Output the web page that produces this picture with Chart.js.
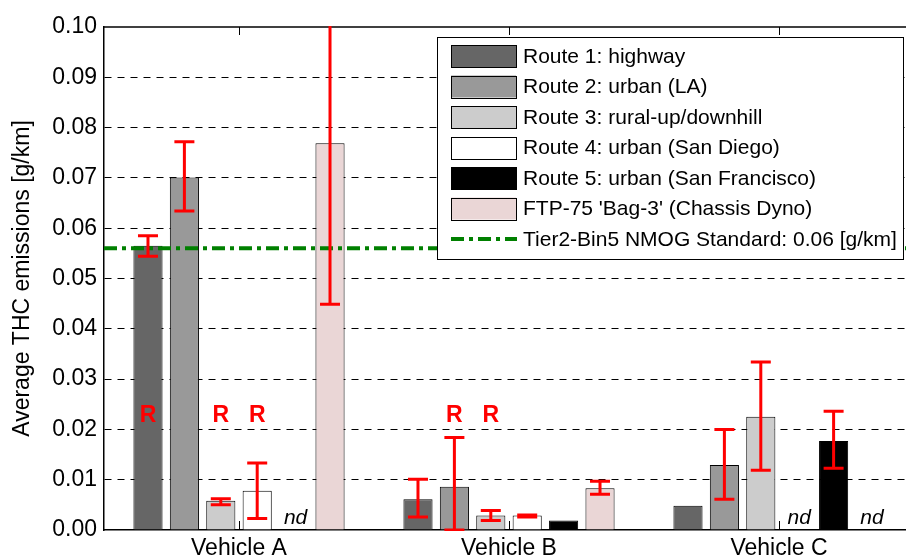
<!DOCTYPE html>
<html>
<head>
<meta charset="utf-8">
<title>Average THC emissions</title>
<script src="https://cdn.jsdelivr.net/npm/chart.js@4.4.1/dist/chart.umd.min.js"></script>
<style>
    body { margin: 0; background: #fff; overflow: hidden; }
    #wrap { width: 906px; height: 558px; overflow: hidden; }
</style>
</head>
<body>
<div id="wrap"><canvas id="thcChart" width="914" height="558"></canvas></div>
<script>
// Chart data
const vehicles = ['Vehicle A', 'Vehicle B', 'Vehicle C'];

const route1 = [0.0565, 0.0061, 0.0048];
const route2 = [0.0701, 0.0086, 0.0129];
const route3 = [0.0058, 0.0029, 0.0225];
const route4 = [0.0078, 0.0029, null];
const route5 = [null, 0.0019, 0.0177];
const ftp75 = [0.0769, 0.0083, null];

// error bars as [low, high]
const route1Err = [[0.0544, 0.0585], [0.0026, 0.0101], null];
const route2Err = [[0.0634, 0.0772], [0.0, 0.0184], [0.0061, 0.0200]];
const route3Err = [[0.0050, 0.0062], [0.0019, 0.0039], [0.0119, 0.0334]];
const route4Err = [[0.0023, 0.0133], [0.0026, 0.0030], null];
const route5Err = [null, null, [0.0123, 0.0236]];
const ftp75Err = [[0.0449, 0.109], [0.0071, 0.0097], null];

// R = marked routes, nd = not driven
const route1Notes = ['R', '', ''];
const route2Notes = ['', 'R', ''];
const route3Notes = ['R', 'R', ''];
const route4Notes = ['R', '', 'nd'];
const route5Notes = ['nd', '', ''];
const ftp75Notes = ['', '', 'nd'];

const standardValue = 0.056;
const standardLabel = 'Tier2-Bin5 NMOG Standard: 0.06 [g/km]';
const yTicks = [0, 0.01, 0.02, 0.03, 0.04, 0.05, 0.06, 0.07, 0.08, 0.09, 0.10];

const FONT = "'Liberation Sans', Arial, sans-serif";
Chart.defaults.font.family = FONT;
Chart.defaults.color = '#000';

function makeSet(label, data, color, errs, notes) {
    return {
        label: label,
        data: data,
        backgroundColor: color,
        borderColor: '#000',
        borderWidth: 1,
        barPercentage: 0.8,
        categoryPercentage: 0.809,
        errs: errs,
        notes: notes
    };
}

// Standard line, error bars, notes, axis ticks and legend
const overlayPlugin = {
    id: 'overlay',
    afterDatasetsDraw(chart) {
        const ctx = chart.ctx;
        const area = chart.chartArea;
        const xs = chart.scales.x;
        const ys = chart.scales.y;

        ctx.save();
        ctx.beginPath();
        ctx.rect(area.left, area.top - 1, area.right - area.left, area.bottom - area.top + 2);
        ctx.clip();

        // top axis line and category ticks
        ctx.strokeStyle = '#000';
        ctx.lineWidth = 1.5;
        ctx.beginPath();
        ctx.moveTo(area.left, area.top);
        ctx.lineTo(area.right, area.top);
        ctx.stroke();
        ctx.lineWidth = 1;
        vehicles.forEach((v, i) => {
            const x = Math.round(xs.getPixelForValue(i)) + 0.5;
            ctx.beginPath();
            ctx.moveTo(x, area.top);
            ctx.lineTo(x, area.top + 8);
            ctx.moveTo(x, area.bottom);
            ctx.lineTo(x, area.bottom - 9);
            ctx.stroke();
        });

        // standard line
        const ySt = ys.getPixelForValue(standardValue);
        ctx.strokeStyle = '#008000';
        ctx.lineWidth = 4;
        ctx.setLineDash([13, 5, 4, 5]);
        ctx.beginPath();
        ctx.moveTo(area.left, ySt);
        ctx.lineTo(area.right, ySt);
        ctx.stroke();
        ctx.setLineDash([]);

        // error bars
        ctx.strokeStyle = '#ff0000';
        ctx.lineWidth = 3;
        chart.data.datasets.forEach((ds, di) => {
            const meta = chart.getDatasetMeta(di);
            ds.errs.forEach((e, j) => {
                if (!e) return;
                const x = meta.data[j].x;
                const yLo = ys.getPixelForValue(e[0]);
                const yHi = ys.getPixelForValue(e[1]);
                ctx.beginPath();
                ctx.moveTo(x, yLo);
                ctx.lineTo(x, yHi);
                ctx.moveTo(x - 10, yLo);
                ctx.lineTo(x + 10, yLo);
                ctx.moveTo(x - 10, yHi);
                ctx.lineTo(x + 10, yHi);
                ctx.stroke();
            });
        });

        // R and nd notes
        ctx.textAlign = 'center';
        chart.data.datasets.forEach((ds, di) => {
            const meta = chart.getDatasetMeta(di);
            ds.notes.forEach((n, j) => {
                const x = meta.data[j].x;
                if (n === 'R') {
                    ctx.fillStyle = '#ff0000';
                    ctx.font = 'bold 23px ' + FONT;
                    ctx.textBaseline = 'middle';
                    ctx.fillText('R', x, ys.getPixelForValue(0.0228));
                } else if (n === 'nd') {
                    ctx.fillStyle = '#000';
                    ctx.font = 'italic 21px ' + FONT;
                    ctx.textBaseline = 'alphabetic';
                    ctx.fillText('nd', x + 2, ys.getPixelForValue(0) - 6);
                }
            });
        });
        ctx.restore();

        // legend box
        const lx = 437.5, ly = 37.5, lw = 466, lh = 222;
        ctx.save();
        ctx.fillStyle = '#fff';
        ctx.fillRect(lx, ly, lw, lh);
        ctx.strokeStyle = '#000';
        ctx.lineWidth = 1;
        ctx.strokeRect(lx, ly, lw, lh);
        ctx.font = '21px ' + FONT;
        ctx.textBaseline = 'middle';
        ctx.textAlign = 'left';
        const rowY = i => 56 + i * 30.5;
        chart.data.datasets.forEach((ds, i) => {
            const y = rowY(i);
            ctx.fillStyle = ds.backgroundColor;
            ctx.fillRect(451, y - 11, 65, 22);
            ctx.strokeStyle = '#000';
            ctx.strokeRect(451.5, Math.round(y - 11) + 0.5, 65, 22);
            ctx.fillStyle = '#000';
            ctx.fillText(ds.label, 523, y + 1);
        });
        const yl = rowY(chart.data.datasets.length);
        ctx.strokeStyle = '#008000';
        ctx.lineWidth = 4;
        ctx.setLineDash([13, 5, 4, 5]);
        ctx.beginPath();
        ctx.moveTo(451, yl);
        ctx.lineTo(517, yl);
        ctx.stroke();
        ctx.setLineDash([]);
        ctx.fillStyle = '#000';
        ctx.fillText(standardLabel, 523, yl + 1);
        ctx.restore();
    }
};

const thcChart = new Chart(document.getElementById('thcChart'), {
    type: 'bar',
    data: {
        labels: vehicles,
        datasets: [
            makeSet('Route 1: highway', route1, '#666666', route1Err, route1Notes),
            makeSet('Route 2: urban (LA)', route2, '#999999', route2Err, route2Notes),
            makeSet('Route 3: rural-up/downhill', route3, '#cccccc', route3Err, route3Notes),
            makeSet('Route 4: urban (San Diego)', route4, '#ffffff', route4Err, route4Notes),
            makeSet('Route 5: urban (San Francisco)', route5, '#000000', route5Err, route5Notes),
            makeSet("FTP-75 'Bag-3' (Chassis Dyno)", ftp75, '#ead6d6', ftp75Err, ftp75Notes)
        ]
    },
    options: {
        responsive: false,
        animation: false,
        layout: { padding: { top: 27, left: 0, right: 0, bottom: 0 } },
        plugins: {
            legend: { display: false },
            tooltip: { enabled: false }
        },
        scales: {
            x: {
                offset: true,
                grid: { display: false, drawTicks: false },
                border: { display: true, color: '#000', width: 1.5 },
                ticks: { font: { size: 23 }, color: '#000', padding: 5 },
                afterFit: scale => { scale.height = 28; }
            },
            y: {
                min: 0,
                max: 0.1,
                afterBuildTicks: scale => { scale.ticks = yTicks.map(v => ({ value: v })); },
                ticks: {
                    font: { size: 23 },
                    color: '#000',
                    padding: 7,
                    callback: v => v.toFixed(2)
                },
                grid: {
                    drawTicks: false,
                    lineWidth: 1,
                    color: c => (c.tick && c.tick.value > 0.001 && c.tick.value < 0.099) ? '#000' : 'rgba(0,0,0,0)'
                },
                border: { display: true, color: '#000', width: 1.5, dash: [7, 6] },
                title: {
                    display: true,
                    text: 'Average THC emissions [g/km]',
                    font: { size: 23 },
                    color: '#000',
                    padding: { top: 9, bottom: 0 }
                },
                afterFit: scale => { scale.width = 104; }
            }
        }
    },
    plugins: [overlayPlugin]
});
</script>
</body>
</html>
